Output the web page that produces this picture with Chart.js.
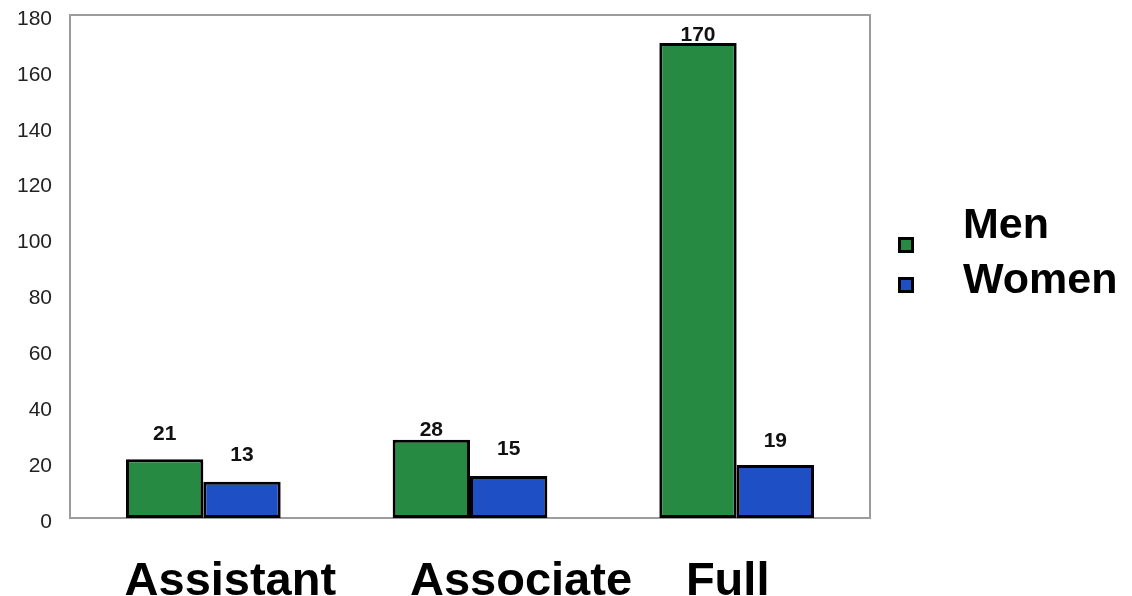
<!DOCTYPE html>
<html>
<head>
<meta charset="utf-8">
<title>Faculty by rank and gender</title>
<script src="https://cdn.jsdelivr.net/npm/chart.js@4/dist/chart.umd.min.js"></script>
<style>
  html, body { margin: 0; padding: 0; background: #ffffff; }
  #wrap { width: 1132px; height: 596px; }
</style>
</head>
<body>
<div id="wrap"><canvas id="chart" width="1132" height="596"></canvas></div>
<script>
// Faculty headcount by rank
const categories = ['Assistant', 'Associate', 'Full'];
const seriesNames = ['Men', 'Women'];
const menCounts = [21, 28, 170];
const womenCounts = [13, 15, 19];
const yMax = 180;
const yStep = 20;

const FONT = '"Liberation Sans", Arial, Helvetica, sans-serif';
const GREEN = '#268a42';
const BLUE = '#1e4fc4';

// Gray frame round the plot area
const frame = {
  id: 'frame',
  beforeDatasetsDraw(chart) {
    const { ctx, chartArea: a } = chart;
    ctx.save();
    ctx.strokeStyle = '#9c9c9c';
    ctx.lineWidth = 2;
    ctx.strokeRect(a.left, a.top, a.right - a.left, a.bottom - a.top);
    ctx.restore();
  }
};

// Value written above each bar
const valueLabels = {
  id: 'valueLabels',
  afterDatasetsDraw(chart, args, opts) {
    const { ctx } = chart;
    ctx.save();
    ctx.font = 'bold 21px ' + FONT;
    ctx.fillStyle = '#111';
    ctx.textAlign = 'center';
    ctx.textBaseline = 'middle';
    chart.data.datasets.forEach((ds, di) => {
      const meta = chart.getDatasetMeta(di);
      meta.data.forEach((bar, i) => {
        const lift = opts.lift[di][i];
        ctx.fillText(String(ds.data[i]), bar.x, bar.y - lift);
      });
    });
    ctx.restore();
  }
};

// Large rank names under the plot
const categoryLabels = {
  id: 'categoryLabels',
  afterDraw(chart, args, opts) {
    const { ctx, chartArea: a } = chart;
    const xs = chart.scales.x;
    ctx.save();
    ctx.font = 'bold 47px ' + FONT;
    ctx.fillStyle = '#000';
    ctx.textAlign = 'center';
    ctx.textBaseline = 'alphabetic';
    chart.data.labels.forEach((lab, i) => {
      ctx.fillText(lab, xs.getPixelForValue(i) + opts.nudge[i], a.bottom + opts.baseline);
    });
    ctx.restore();
  }
};

// Series key at the right of the plot
const sideKey = {
  id: 'sideKey',
  afterDraw(chart, args, opts) {
    const { ctx, chartArea: a } = chart;
    ctx.save();
    chart.data.datasets.forEach((ds, i) => {
      const row = opts.rows[i];
      const cx = a.right + opts.boxX;
      const s = opts.boxSize;
      ctx.fillStyle = '#000';
      ctx.fillRect(cx - s / 2, row.box - s / 2, s, s);
      ctx.fillStyle = ds.backgroundColor;
      ctx.fillRect(cx - s / 2 + 3, row.box - s / 2 + 3, s - 6, s - 6);
      ctx.font = 'bold 43px ' + FONT;
      ctx.fillStyle = '#000';
      ctx.textAlign = 'left';
      ctx.textBaseline = 'alphabetic';
      ctx.fillText(ds.label, a.right + opts.textX, row.base);
    });
    ctx.restore();
  }
};

new Chart(document.getElementById('chart'), {
  type: 'bar',
  data: {
    labels: categories,
    datasets: [
      { label: seriesNames[0], data: menCounts, backgroundColor: GREEN },
      { label: seriesNames[1], data: womenCounts, backgroundColor: BLUE }
    ]
  },
  options: {
    responsive: false,
    animation: false,
    devicePixelRatio: 1,
    layout: { padding: { top: 15, right: 262, left: 0, bottom: 0 } },
    datasets: {
      bar: {
        categoryPercentage: 0.58,
        barPercentage: 1.0,
        borderColor: '#000',
        borderWidth: 3,
        borderSkipped: false
      }
    },
    scales: {
      x: {
        grid: { display: false },
        border: { display: false },
        ticks: { display: false },
        afterFit(s) { s.height = 78; s.paddingLeft = 0; s.paddingRight = 0; }
      },
      y: {
        min: 0,
        max: yMax,
        grid: { display: false, drawTicks: false },
        border: { display: false },
        ticks: {
          stepSize: yStep,
          padding: 18,
          labelOffset: 4,
          color: '#222',
          font: { family: FONT, size: 21 }
        },
        afterFit(s) { s.width = 70; s.paddingTop = 0; s.paddingBottom = 0; }
      }
    },
    plugins: {
      legend: { display: false },
      tooltip: { enabled: false },
      valueLabels: { lift: [[25, 10, 8], [26, 27, 24]] },
      categoryLabels: { nudge: [27, 51, -9], baseline: 77 },
      sideKey: {
        boxX: 36,
        boxSize: 16,
        textX: 93,
        rows: [{ box: 245, base: 238 }, { box: 285, base: 293 }]
      }
    }
  },
  plugins: [frame, valueLabels, categoryLabels, sideKey]
});
</script>
</body>
</html>
